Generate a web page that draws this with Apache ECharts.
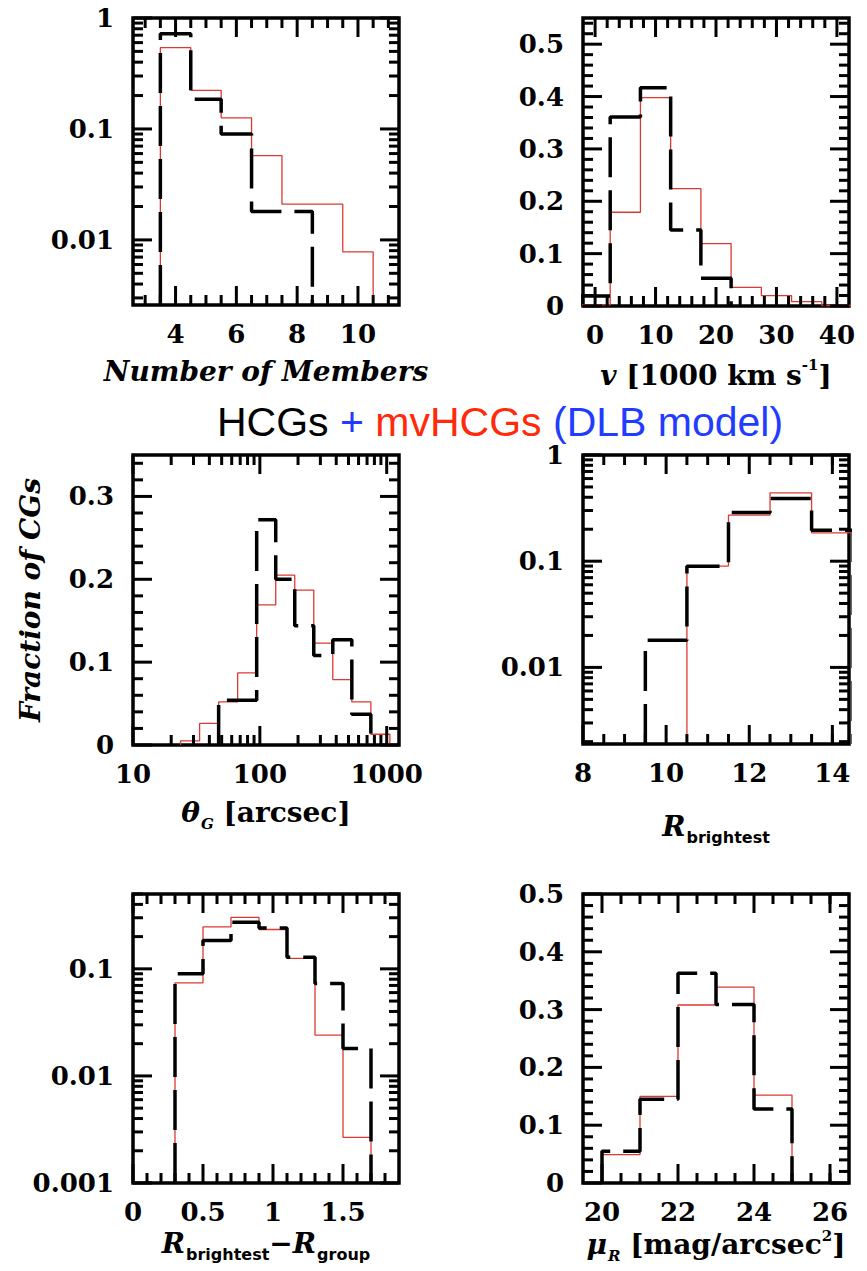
<!DOCTYPE html>
<html><head><meta charset="utf-8">
<script src="https://cdn.jsdelivr.net/npm/echarts@6/dist/echarts.min.js"></script>
<style>html,body{margin:0;padding:0;background:#fff}#c{width:867px;height:1271px}</style>
</head><body><div id="c"></div>
<script>
// ---------------- DATA ----------------
// Panel 1: Number of Members (log y)
const nm_edges_HCG = [3.5, 4.5, 5.5, 6.5, 7.5, 8.5];
const nm_vals_HCG  = [0.72, 0.185, 0.09, 0.018, 0.018];
const nm_edges_mv  = [3.5, 4.5, 5.5, 6.5, 7.5, 8.5, 9.5, 10.5];
const nm_vals_mv   = [0.54, 0.223, 0.126, 0.0575, 0.021, 0.021, 0.0078];
const nm_xLabels = [4, 6, 8, 10];
const nm_yLabels = [1, 0.1, 0.01];
const nm_xMinor = [3, 3.5, 4.5, 5, 5.5, 6.5, 7, 7.5, 8.5, 9, 9.5, 10.5, 11];
const nm_yMinor = [0.9,0.8,0.7,0.6,0.5,0.4,0.3,0.2,0.09,0.08,0.07,0.06,0.05,0.04,0.03,0.02,0.009,0.008,0.007,0.006,0.005,0.004,0.003];

// Panel 2: velocity [1000 km/s]
const v_edges_HCG = [-2.5, 2.5, 7.5, 12.5, 17.5, 22.5];
const v_vals_HCG  = [0.019, 0.361, 0.417, 0.145, 0.053];
const v_edges_mv  = [-2.5, 2.5, 7.5, 12.5, 17.5, 22.5, 27.5, 32.5, 37.5, 42.5];
const v_vals_mv   = [0.002, 0.179, 0.398, 0.224, 0.119, 0.0356, 0.0197, 0.0083, 0.001];
const v_xLabels = [0, 10, 20, 30, 40];
const v_yLabels = [0, 0.1, 0.2, 0.3, 0.4, 0.5];
const v_xMinor = [2,4,6,8,12,14,16,18,22,24,26,28,32,34,36,38];
const v_yMinor = [0.02,0.04,0.06,0.08,0.12,0.14,0.16,0.18,0.22,0.24,0.26,0.28,0.32,0.34,0.36,0.38,0.42,0.44,0.46,0.48,0.52,0.54];

// Panel 3: theta_G [arcsec] (log x)
const th_edges_HCG = [47.32, 66.83, 94.41, 133.4, 188.4, 266.1, 375.8, 530.9, 749.9];
const th_vals_HCG  = [0.054, 0.054, 0.272, 0.200, 0.144, 0.108, 0.127, 0.037];
const th_edges_mv  = [23.71, 33.50, 47.32, 66.83, 94.41, 133.4, 188.4, 266.1, 375.8, 530.9, 749.9, 1059];
const th_vals_mv   = [0.005, 0.026, 0.052, 0.087, 0.169, 0.205, 0.187, 0.123, 0.079, 0.052, 0.013];
const th_xLabels = [10, 100, 1000];
const th_yLabels = [0, 0.1, 0.2, 0.3];
const th_xMinor = [20,30,40,50,60,70,80,90,200,300,400,500,600,700,800,900];
const th_yMinor = [0.02,0.04,0.06,0.08,0.12,0.14,0.16,0.18,0.22,0.24,0.26,0.28,0.32,0.34];

// Panel 4: R_brightest (log y)
const rb_edges_HCG = [9.5, 10.5, 11.5, 12.5, 13.5, 14.5];
const rb_vals_HCG  = [0.018, 0.0897, 0.288, 0.39, 0.196];
const rb_edges_mv  = [10.5, 11.5, 12.5, 13.5, 14.5];
const rb_vals_mv   = [0.09, 0.272, 0.44, 0.185];
const rb_xLabels = [8, 10, 12, 14];
const rb_yLabels = [1, 0.1, 0.01];
const rb_xMinor = [8.5,9,9.5,10.5,11,11.5,12.5,13,13.5,14];
const rb_yMinor = [0.9,0.8,0.7,0.6,0.5,0.4,0.3,0.2,0.09,0.08,0.07,0.06,0.05,0.04,0.03,0.02,0.009,0.008,0.007,0.006,0.005,0.004,0.003,0.002];

// Panel 5: R_brightest - R_group (log y)
const dr_edges = [0.3, 0.5, 0.7, 0.9, 1.1, 1.3, 1.5, 1.7];
const dr_vals_HCG = [0.09, 0.184, 0.272, 0.241, 0.128, 0.073, 0.018];
const dr_vals_mv  = [0.074, 0.247, 0.303, 0.233, 0.125, 0.024, 0.00267];
const dr_xLabels = [0, 0.5, 1, 1.5];
const dr_yLabels = [0.1, 0.01, 0.001];
const dr_xMinor = [0.1,0.2,0.3,0.4,0.6,0.7,0.8,0.9,1.1,1.2,1.3,1.4,1.6,1.7,1.8];
const dr_yMinor = [0.5,0.4,0.3,0.2,0.09,0.08,0.07,0.06,0.05,0.04,0.03,0.02,0.009,0.008,0.007,0.006,0.005,0.004,0.003,0.002];

// Panel 6: mu_R [mag/arcsec^2]
const mu_edges = [20, 21, 22, 23, 24, 25];
const mu_vals_HCG = [0.055, 0.145, 0.363, 0.309, 0.128];
const mu_vals_mv  = [0.049, 0.150, 0.308, 0.339, 0.152];
const mu_xLabels = [20, 22, 24, 26];
const mu_yLabels = [0, 0.1, 0.2, 0.3, 0.4, 0.5];
const mu_xMinor = [20.5,21,21.5,22.5,23,23.5,24.5,25,25.5,26];
const mu_yMinor = [0.02,0.04,0.06,0.08,0.12,0.14,0.16,0.18,0.22,0.24,0.26,0.28,0.32,0.34,0.36,0.38,0.42,0.44,0.46,0.48];

// ---------------- STYLE / LAYOUT ----------------
const SERIF = "'DejaVu Serif', 'Liberation Serif', serif";
const SANS = "'DejaVu Sans', 'Liberation Sans', sans-serif";
const richName = {
  i:   {fontFamily: SERIF, fontWeight: 'bold', fontStyle: 'italic', fontSize: 28, lineHeight: 30, color: '#000', verticalAlign: 'top'},
  b:   {fontFamily: SERIF, fontWeight: 'bold', fontSize: 28, lineHeight: 30, color: '#000', verticalAlign: 'top'},
  ib:  {fontFamily: SERIF, fontWeight: 'bold', fontStyle: 'italic', fontSize: 28, lineHeight: 30, color: '#000', verticalAlign: 'bottom'},
  bb:  {fontFamily: SERIF, fontWeight: 'bold', fontSize: 28, lineHeight: 30, color: '#000', verticalAlign: 'bottom'},
  sub: {fontFamily: SERIF, fontWeight: 'bold', fontStyle: 'italic', fontSize: 15, lineHeight: 15, padding: [21, 0, 0, 1], color: '#000'},
  subs:{fontFamily: SANS, fontWeight: 'bold', fontSize: 16, lineHeight: 16, padding: [20, 0, 0, 1], color: '#000'},
  sup: {fontFamily: SERIF, fontWeight: 'bold', fontSize: 15, lineHeight: 15, padding: [0, 0, 19, 0], color: '#000'}
};

const panels = [
  {g: [133, 18, 266, 287], xType: 'value', xMin: 2.6, xMax: 11.35, yType: 'log', yMin: 0.00259, yMax: 1,
   xL: nm_xLabels, yL: nm_yLabels, xMin_: nm_xMinor, yMin_: nm_yMinor,
   hcg: [nm_edges_HCG, nm_vals_HCG], mv: [nm_edges_mv, nm_vals_mv],
   xName: '{i|Number of Members}', xGap: 52},
  {g: [583, 18, 266, 288], xType: 'value', xMin: -2, xMax: 42, yType: 'value', yMin: 0, yMax: 0.55,
   xL: v_xLabels, yL: v_yLabels, xMin_: v_xMinor, yMin_: v_yMinor,
   hcg: [v_edges_HCG, v_vals_HCG], mv: [v_edges_mv, v_vals_mv],
   xName: '{bb|}{ib|v }{bb|[1000 km s}{sup|-1}{bb|]}', xGap: 53},
  {g: [133, 455, 266, 290], xType: 'log', xMin: 10, xMax: 1250, yType: 'value', yMin: 0, yMax: 0.35,
   xL: th_xLabels, yL: th_yLabels, xMin_: th_xMinor, yMin_: th_yMinor,
   hcg: [th_edges_HCG, th_vals_HCG], mv: [th_edges_mv, th_vals_mv],
   xName: '{i|θ}{sub|G}{b| [arcsec]}', xGap: 53, yName: '{i|Fraction of CGs}', yGap: 87},
  {g: [583, 455, 266, 289], xType: 'value', xMin: 8, xMax: 14.4, yType: 'log', yMin: 0.0019, yMax: 1,
   xL: rb_xLabels, yL: rb_yLabels, xMin_: rb_xMinor, yMin_: rb_yMinor,
   hcg: [rb_edges_HCG, rb_vals_HCG], mv: [rb_edges_mv, rb_vals_mv],
   xName: '{i|R}{subs|brightest}', xGap: 68},
  {g: [133, 894, 266, 289], xType: 'value', xMin: 0, xMax: 1.9, yType: 'log', yMin: 0.001, yMax: 0.5,
   xL: dr_xLabels, yL: dr_yLabels, xMin_: dr_xMinor, yMin_: dr_yMinor,
   hcg: [dr_edges, dr_vals_HCG], mv: [dr_edges, dr_vals_mv],
   xName: '{i|R}{subs|brightest}{i|−R}{subs|group}', xGap: 46},
  {g: [583, 894, 266, 289], xType: 'value', xMin: 19.5, xMax: 26.5, yType: 'value', yMin: 0, yMax: 0.5,
   xL: mu_xLabels, yL: mu_yLabels, xMin_: mu_xMinor, yMin_: mu_yMinor,
   hcg: [mu_edges, mu_vals_HCG], mv: [mu_edges, mu_vals_mv],
   xName: '{i|μ}{sub|R}{b| [mag/arcsec}{sup|2}{b|]}', xGap: 47}
];

// histogram outline from bin edges + values, dropping to the axis base
function stepPoints(edges, vals, base) {
  const pts = [[edges[0], base]];
  for (let i = 0; i < vals.length; i++) {
    pts.push([edges[i], vals[i]]);
    pts.push([edges[i + 1], vals[i]]);
  }
  pts.push([edges[edges.length - 1], base]);
  return pts;
}
const fmt = v => String(Number((+v).toPrecision(6)));
const labelStyle = {color: '#000', fontFamily: SERIF, fontWeight: 'bold', fontSize: 26};

function tickData(p) {
  const d = [];
  p.xL.forEach(v => { if (v >= p.xMin && v <= p.xMax) d.push([v, p.yMin, 0]); });
  p.xMin_.forEach(v => d.push([v, p.yMin, 1]));
  p.yL.forEach(v => { if (v >= p.yMin && v <= p.yMax) d.push([p.xMin, v, 2]); });
  p.yMin_.forEach(v => d.push([p.xMin, v, 3]));
  return d;
}
function renderTick(params, api) {
  const kind = api.value(2);
  const pt = api.coord([api.value(0), api.value(1)]);
  const cs = params.coordSys;
  const len = (kind === 0 || kind === 2) ? 19 : 10;
  const st = {stroke: '#000', lineWidth: 3};
  let a, b;
  if (kind < 2) {
    const x = pt[0], yb = cs.y + cs.height, yt = cs.y;
    a = {x1: x, y1: yb, x2: x, y2: yb - len};
    b = {x1: x, y1: yt, x2: x, y2: yt + len};
  } else {
    const y = pt[1], xl = cs.x, xr = cs.x + cs.width;
    a = {x1: xl, y1: y, x2: xl + len, y2: y};
    b = {x1: xr, y1: y, x2: xr - len, y2: y};
  }
  return {type: 'group', children: [
    {type: 'line', shape: a, style: st},
    {type: 'line', shape: b, style: st}
  ]};
}

const grids = [], xAxes = [], yAxes = [], series = [];
panels.forEach((p, i) => {
  grids.push({left: p.g[0], top: p.g[1], width: p.g[2], height: p.g[3], show: true,
    borderColor: '#000', borderWidth: 3.5, backgroundColor: 'transparent',
    containLabel: false, outerBoundsMode: 'none'});
  xAxes.push({gridIndex: i, type: p.xType, logBase: 10, min: p.xMin, max: p.xMax,
    axisLine: {show: false}, axisTick: {show: false}, splitLine: {show: false},
    axisLabel: Object.assign({customValues: p.xL, formatter: fmt, margin: 16,
      showMinLabel: true, showMaxLabel: true, hideOverlap: false}, labelStyle),
    name: p.xName, nameLocation: 'middle', nameGap: p.xGap, nameMoveOverlap: false,
    nameTextStyle: {rich: richName}});
  yAxes.push({gridIndex: i, type: p.yType, logBase: 10, min: p.yMin, max: p.yMax,
    axisLine: {show: false}, axisTick: {show: false}, splitLine: {show: false},
    axisLabel: Object.assign({customValues: p.yL, formatter: fmt, margin: 19,
      showMinLabel: true, showMaxLabel: true, hideOverlap: false}, labelStyle),
    name: p.yName || '', nameLocation: 'middle', nameGap: p.yGap || 30, nameMoveOverlap: false,
    nameTextStyle: {rich: richName}});
  const base = p.yMin;
  series.push({type: 'line', xAxisIndex: i, yAxisIndex: i, data: stepPoints(p.mv[0], p.mv[1], base),
    showSymbol: false, symbol: 'none', z: 3, clip: true,
    lineStyle: {color: '#dc3a30', width: 1.3}});
  series.push({type: 'line', xAxisIndex: i, yAxisIndex: i, data: stepPoints(p.hcg[0], p.hcg[1], base),
    showSymbol: false, symbol: 'none', z: 4, clip: true,
    lineStyle: {color: '#000', width: 3.5, type: [40, 13]}});
  series.push({type: 'custom', xAxisIndex: i, yAxisIndex: i, data: tickData(p), renderItem: renderTick,
    z: 5, silent: true, clip: false});
});

const chart = echarts.init(document.getElementById('c'), null, {renderer: 'svg', width: 867, height: 1271});
chart.setOption({
  animation: false,
  backgroundColor: '#ffffff',
  title: {
    text: '{k|HCGs} {bl|+} {r|mvHCGs} {bl|(DLB model)}',
    left: 212, top: 396,
    textStyle: {fontFamily: "'Liberation Sans', Arial, sans-serif", fontSize: 41, fontWeight: 'normal', color: '#000',
      rich: {
        k: {color: '#000', fontFamily: "'Liberation Sans', Arial, sans-serif", fontSize: 41},
        bl: {color: '#1f3cff', fontFamily: "'Liberation Sans', Arial, sans-serif", fontSize: 41},
        r: {color: '#ff2a0a', fontFamily: "'Liberation Sans', Arial, sans-serif", fontSize: 41}
      }}
  },
  grid: grids, xAxis: xAxes, yAxis: yAxes, series: series
});
</script></body></html>
